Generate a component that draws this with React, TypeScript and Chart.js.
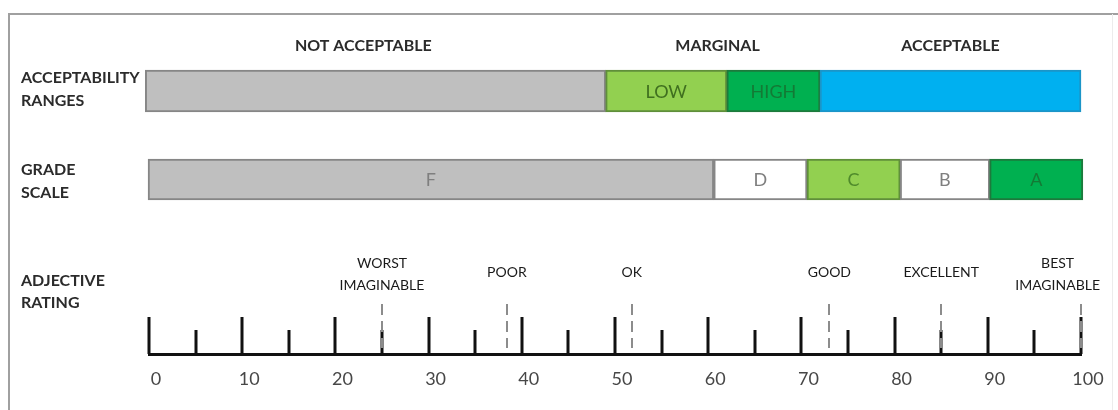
import React, { useEffect, useRef } from 'react';
import { Chart, registerables } from 'chart.js';

Chart.register(...registerables);

// ---------- data ----------
const acceptabilityNames = ['', 'LOW', 'HIGH', ''];
const acceptabilityStart = [-0.4, 49, 62, 72];
const acceptabilityEnd = [49, 62, 72, 100];
const acceptabilityHeaders = ['NOT ACCEPTABLE', 'MARGINAL', 'ACCEPTABLE'];
const acceptabilityHeaderAt = [23, 61, 86];

const gradeNames = ['F', 'D', 'C', 'B', 'A'];
const gradeStart = [-0.1, 60.6, 70.6, 80.6, 90.2];
const gradeEnd = [60.6, 70.6, 80.6, 90.2, 100.2];

const adjectiveNames = [
  ['WORST', 'IMAGINABLE'],
  ['POOR'],
  ['OK'],
  ['GOOD'],
  ['EXCELLENT'],
  ['BEST', 'IMAGINABLE'],
];
const adjectiveValues = [25, 38.4, 51.8, 73, 85, 100];

const majorTicks = [0, 10, 20, 30, 40, 50, 60, 70, 80, 90, 100];
const minorTicks = [5, 15, 25, 35, 45, 55, 65, 75, 85, 95];
const tickLabels = ['0', '10', '20', '30', '40', '50', '60', '70', '80', '90', '100'];

const rowLabels = [
  ['ACCEPTABILITY', 'RANGES'],
  ['GRADE', 'SCALE'],
  ['ADJECTIVE', 'RATING'],
];

// ---------- styles / layout ----------
const FONT = 'Lato, "Open Sans", "DejaVu Sans", sans-serif';
const GRAY = '#bfbfbf';
const LIGHT_GREEN = '#92d050';
const GREEN = '#00b050';
const BLUE = '#00b0f0';

const acceptabilityFill = [GRAY, LIGHT_GREEN, GREEN, BLUE];
const acceptabilityBorder = ['#868686', '#5f8f3a', '#1d7a3c', '#1b95c8'];
const acceptabilityText = ['#7f7f7f', '#3f6f1f', '#137a35', '#333'];

const gradeFill = [GRAY, '#ffffff', LIGHT_GREEN, '#ffffff', GREEN];
const gradeBorder = ['#868686', '#868686', '#5f8f3a', '#868686', '#1d7a3c'];
const gradeText = ['#7f7f7f', '#7f7f7f', '#4f8a2b', '#7f7f7f', '#137a35'];

const ROW_ACC = 78; // y-scale units (1 unit = 1px from chart top)
const ROW_GRADE = 166.5;

const overlayPlugin = {
  id: 'overlay',
  beforeDraw(chart: any) {
    const { ctx, width, height } = chart;
    ctx.save();
    ctx.fillStyle = '#ffffff';
    ctx.fillRect(0, 0, width, height);
    ctx.strokeStyle = '#a0a0a0';
    ctx.lineWidth = 2;
    ctx.beginPath();
    ctx.moveTo(9, height);
    ctx.lineTo(9, 14);
    ctx.lineTo(width, 14);
    ctx.stroke();
    ctx.strokeStyle = '#ececec';
    ctx.lineWidth = 1;
    ctx.beginPath();
    ctx.moveTo(1112.5, 14);
    ctx.lineTo(1112.5, height);
    ctx.stroke();
    ctx.restore();
  },
  afterDatasetsDraw(chart: any) {
    const { ctx, scales } = chart;
    const xs = scales.x;
    const axisY = chart.chartArea.bottom;
    ctx.save();

    const m0 = chart.getDatasetMeta(0).data[0];
    const m1 = chart.getDatasetMeta(1).data[0];

    // bar inner labels
    ctx.textAlign = 'center';
    ctx.textBaseline = 'middle';
    ctx.font = `18px ${FONT}`;
    acceptabilityNames.forEach((n, i) => {
      if (!n) return;
      const cx = (xs.getPixelForValue(acceptabilityStart[i]) + xs.getPixelForValue(acceptabilityEnd[i])) / 2;
      ctx.fillStyle = acceptabilityText[i];
      ctx.fillText(n, cx, m0.y + 1);
    });
    gradeNames.forEach((n, i) => {
      const cx = (xs.getPixelForValue(gradeStart[i]) + xs.getPixelForValue(gradeEnd[i])) / 2;
      ctx.fillStyle = gradeText[i];
      ctx.fillText(n, cx, m1.y + 1);
    });

    // headers
    ctx.font = `bold 16px ${FONT}`;
    ctx.fillStyle = '#2b2b2b';
    acceptabilityHeaders.forEach((h, i) => {
      ctx.fillText(h, xs.getPixelForValue(acceptabilityHeaderAt[i]), 46);
    });

    // row labels
    ctx.textAlign = 'left';
    const rowY = [
      [78, 101],
      [170, 193],
      [281, 303],
    ];
    rowLabels.forEach((lines, r) => {
      lines.forEach((t, k) => ctx.fillText(t, 21, rowY[r][k]));
    });

    // axis tick marks
    ctx.strokeStyle = '#111';
    ctx.lineWidth = 3;
    ctx.lineCap = 'butt';
    ctx.beginPath();
    majorTicks.forEach((v) => {
      const px = Math.round(xs.getPixelForValue(v));
      ctx.moveTo(px, axisY);
      ctx.lineTo(px, axisY - 37);
    });
    minorTicks.forEach((v) => {
      const px = Math.round(xs.getPixelForValue(v));
      ctx.moveTo(px, axisY);
      ctx.lineTo(px, axisY - 24);
    });
    ctx.stroke();

    // adjective markers
    ctx.strokeStyle = '#8c8c8c';
    ctx.lineWidth = 2;
    ctx.setLineDash([11, 6]);
    ctx.beginPath();
    adjectiveValues.forEach((v) => {
      const px = Math.round(xs.getPixelForValue(v));
      ctx.moveTo(px, axisY - 50);
      ctx.lineTo(px, axisY - 6);
    });
    ctx.stroke();
    ctx.setLineDash([]);

    // adjective labels
    ctx.font = `14px ${FONT}`;
    ctx.fillStyle = '#1a1a1a';
    ctx.textAlign = 'center';
    adjectiveNames.forEach((lines, i) => {
      let cx = xs.getPixelForValue(adjectiveValues[i]);
      const w = Math.max(...lines.map((t) => ctx.measureText(t).width));
      if (cx + w / 2 > 1100) cx = 1100 - w / 2;
      if (lines.length === 2) {
        ctx.fillText(lines[0], cx, 263);
        ctx.fillText(lines[1], cx, 285);
      } else {
        ctx.fillText(lines[0], cx, 272);
      }
    });

    ctx.restore();
  },
};

export default function App() {
  const ref = useRef<HTMLCanvasElement | null>(null);

  useEffect(() => {
    if (!ref.current) return;
    const chart = new Chart(ref.current, {
      type: 'bar',
      data: {
        datasets: [
          {
            label: 'Acceptability ranges',
            data: acceptabilityStart.map((s, i) => ({ x: [s, acceptabilityEnd[i]], y: ROW_ACC })) as any,
            backgroundColor: acceptabilityFill,
            borderColor: acceptabilityBorder,
            borderWidth: 2,
            borderSkipped: false,
            barThickness: 42,
            grouped: false,
            clip: false as any,
          },
          {
            label: 'Grade scale',
            data: gradeStart.map((s, i) => ({ x: [s, gradeEnd[i]], y: ROW_GRADE })) as any,
            backgroundColor: gradeFill,
            borderColor: gradeBorder,
            borderWidth: 2,
            borderSkipped: false,
            barThickness: 41,
            grouped: false,
            clip: false as any,
          },
        ],
      },
      options: {
        indexAxis: 'y',
        responsive: false,
        animation: false,
        devicePixelRatio: 1,
        layout: { padding: { left: 149, right: 37, top: 13, bottom: 0 } },
        plugins: {
          legend: { display: false },
          tooltip: { enabled: false },
        },
        scales: {
          x: {
            type: 'linear',
            position: 'bottom',
            min: 0,
            max: 100,
            grid: { display: false, drawTicks: false },
            border: { display: true, color: '#111', width: 3 },
            afterFit: (s: any) => {
              s.height = 56;
            },
            afterBuildTicks: (s: any) => {
              s.ticks = majorTicks.map((v) => ({ value: v }));
            },
            ticks: {
              padding: 14,
              labelOffset: 7,
              color: '#474747',
              font: { family: FONT, size: 18 },
              maxRotation: 0,
              autoSkip: false,
              callback: (v: any) => tickLabels[majorTicks.indexOf(Number(v))],
            },
          },
          y: {
            type: 'linear',
            display: false,
            offset: false,
            grid: { offset: false },
            reverse: true,
            min: 0,
            max: 341,
          },
        },
      },
      plugins: [overlayPlugin],
    } as any);
    return () => chart.destroy();
  }, []);

  return (
    <div style={{ position: 'absolute', left: 0, top: 0, width: 1118, height: 410 }}>
      <canvas ref={ref} width={1118} height={410} style={{ width: 1118, height: 410, display: 'block' }} />
    </div>
  );
}
